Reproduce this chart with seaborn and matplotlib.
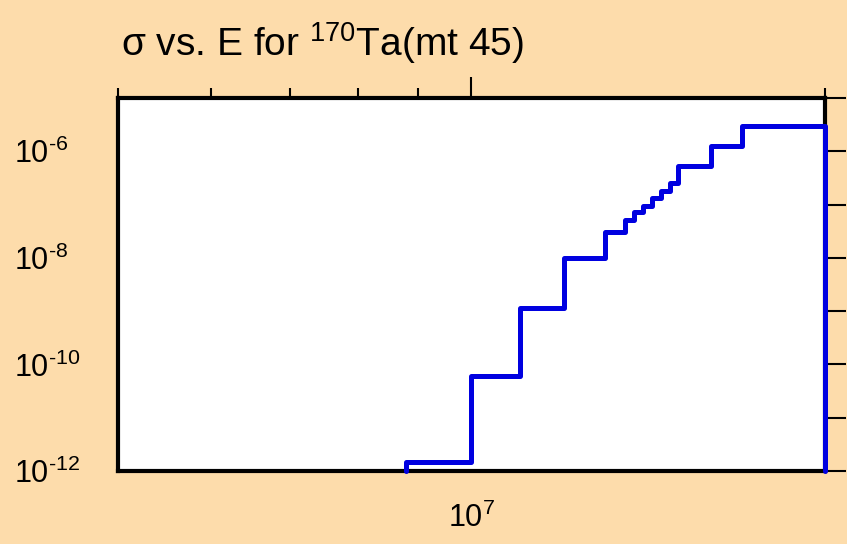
import matplotlib
matplotlib.use("Agg")
import matplotlib.pyplot as plt
import matplotlib.ticker as mticker
import numpy as np
import pandas as pd
import seaborn as sns

# Group boundaries (eV) and cross sections (b) for each energy group
energy_edges = [8.8e6, 1.0e7, 1.1e7, 1.2e7, 1.3e7, 1.35e7, 1.375e7, 1.4e7,
                1.425e7, 1.45e7, 1.475e7, 1.5e7, 1.6e7, 1.7e7, 2.0e7]
sigma = [1.5e-12, 6.0e-11, 1.13e-9, 9.8e-9, 3.0e-8, 5.1e-8, 7.2e-8,
         9.3e-8, 1.31e-7, 1.77e-7, 2.5e-7, 5.2e-7, 1.24e-6, 2.95e-6]

x_range = (5e6, 2e7)
y_range = (1e-12, 1e-5)
y_major = [1e-12, 1e-10, 1e-8, 1e-6]
y_minor = [1e-11, 1e-9, 1e-7, 1e-5]
x_major = [1e7]

bg = "#fddcab"
line_color = "#0000e0"

sns.set_theme(style="white")
plt.rcParams["font.family"] = ["Liberation Sans", "DejaVu Sans"]
plt.rcParams["mathtext.fontset"] = "custom"
plt.rcParams["mathtext.rm"] = "Liberation Sans"
plt.rcParams["mathtext.it"] = "Liberation Sans"
plt.rcParams["mathtext.default"] = "regular"

fig = plt.figure(figsize=(8.47, 5.44), dpi=100, facecolor=bg)
ax = fig.add_axes([118 / 847, 1 - 471 / 544, (825 - 118) / 847, (471 - 98) / 544])
ax.set_facecolor("white")

# Histogram outline: closed at both ends down to the lower axis limit
floor = y_range[0]
xs = [energy_edges[0]] + energy_edges + [energy_edges[-1]]
ys = [floor] + sigma + [sigma[-1], floor]
df = pd.DataFrame({"E": xs, "sigma": ys})
sns.lineplot(data=df, x="E", y="sigma", ax=ax, sort=False, estimator=None,
             drawstyle="steps-post", color=line_color, linewidth=3.6,
             zorder=5, clip_on=False)

ax.set_xscale("log")
ax.set_yscale("log")
ax.set_xlim(*x_range)
ax.set_ylim(*y_range)
ax.set_xlabel("")
ax.set_ylabel("")

ax.xaxis.set_major_locator(mticker.FixedLocator(x_major))
ax.xaxis.set_minor_locator(mticker.LogLocator(base=10, subs=np.arange(2, 10)))
ax.yaxis.set_major_locator(mticker.FixedLocator(y_major))
ax.yaxis.set_minor_locator(mticker.FixedLocator(y_minor))


def pow_label(v, pos):
    e = int(round(np.log10(v)))
    sgn = r"\text{-}" if e < 0 else ""
    return r"$10^{%s%d}$" % (sgn, abs(e))


ax.xaxis.set_major_formatter(mticker.FuncFormatter(pow_label))
ax.yaxis.set_major_formatter(mticker.FuncFormatter(pow_label))
ax.xaxis.set_minor_formatter(mticker.NullFormatter())
ax.yaxis.set_minor_formatter(mticker.NullFormatter())

for s in ax.spines.values():
    s.set_visible(True)
    s.set_color("black")
    s.set_linewidth(3)

ax.tick_params(axis="both", which="both", direction="out", color="black",
               labelcolor="black", width=1.5, labelsize=22, top=True,
               right=True, labeltop=False, labelright=False)
ax.tick_params(axis="x", which="major", length=15, pad=8)
ax.tick_params(axis="x", which="minor", length=7.5)
# y labels are left-aligned in a column near the figure edge
ax.tick_params(axis="y", which="both", length=15, pad=60)
for lab in ax.get_yticklabels():
    lab.set_horizontalalignment("left")

fig.text(121 / 847, 1 - 56 / 544, r"σ vs. E for $^{170}$Ta(mt 45)",
         fontsize=28, ha="left", va="baseline", color="black")

fig.savefig("out.png", dpi=100, facecolor=bg)
